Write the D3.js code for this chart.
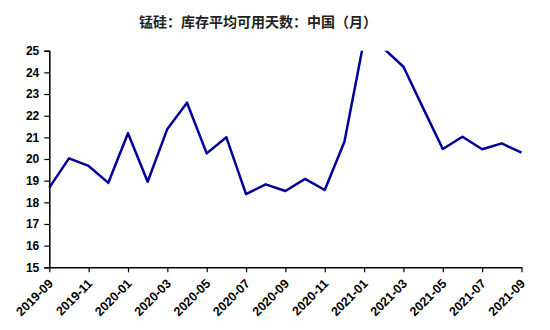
<!DOCTYPE html>
<html>
<head>
<meta charset="utf-8">
<script src="https://cdn.jsdelivr.net/npm/d3@7/dist/d3.min.js"></script>
<style>
  html, body { margin: 0; padding: 0; background: #fff; }
  svg { display: block; }
</style>
</head>
<body>
<svg id="chart" width="550" height="330"></svg>
<script>
const title = "锰硅：库存平均可用天数：中国（月）";
const months = ["2019-09","2019-10","2019-11","2019-12","2020-01","2020-02","2020-03","2020-04",
  "2020-05","2020-06","2020-07","2020-08","2020-09","2020-10","2020-11","2020-12",
  "2021-01","2021-02","2021-03","2021-04","2021-05","2021-06","2021-07","2021-08","2021-09"];
const values = [18.68,20.03,19.68,18.90,21.19,18.95,21.39,22.60,
  20.26,21.00,18.38,18.83,18.52,19.08,18.57,20.80,
  25.50,25.10,24.26,22.35,20.46,21.03,20.45,20.72,20.29];
const xTickLabels = ["2019-09","2019-11","2020-01","2020-03","2020-05","2020-07","2020-09",
  "2020-11","2021-01","2021-03","2021-05","2021-07","2021-09"];
const yTicks = [15,16,17,18,19,20,21,22,23,24,25];

const svg = d3.select("#chart");
const margin = {left: 49.3, right: 28.5, top: 50.7, bottom: 62.7};
const W = 550, H = 330;

const x = d3.scalePoint().domain(months).range([margin.left, W - margin.right]);
const y = d3.scaleLinear().domain([15, 25]).range([H - margin.bottom, margin.top]);

svg.append("text")
  .attr("x", 258).attr("y", 27)
  .attr("text-anchor", "middle")
  .attr("font-family", "'Noto Sans CJK SC', sans-serif")
  .attr("font-size", 14).attr("font-weight", "bold")
  .attr("fill", "#222")
  .text(title);

svg.append("defs").append("clipPath").attr("id", "plotclip")
  .append("rect")
  .attr("x", margin.left - 2).attr("y", margin.top)
  .attr("width", W - margin.left - margin.right + 4)
  .attr("height", H - margin.top - margin.bottom);

const yAxis = svg.append("g")
  .attr("transform", `translate(${margin.left},0)`)
  .call(d3.axisLeft(y).tickValues(yTicks).tickSize(5).tickPadding(5).tickFormat(d3.format("d")));
yAxis.select(".domain").attr("stroke", "#000").attr("stroke-width", 1.5);
yAxis.selectAll(".tick line").attr("stroke", "#000").attr("stroke-width", 1.2);
yAxis.selectAll("text")
  .attr("font-family", "'Liberation Sans', Arial, sans-serif")
  .attr("font-size", 12).attr("font-weight", "bold").attr("fill", "#000");

const xAxis = svg.append("g")
  .attr("transform", `translate(0,${H - margin.bottom})`)
  .call(d3.axisBottom(x).tickValues(xTickLabels).tickSize(5).tickSizeOuter(0));
xAxis.select(".domain").attr("stroke", "#000").attr("stroke-width", 1.5);
xAxis.selectAll(".tick line").attr("stroke", "#000").attr("stroke-width", 1.2);
xAxis.selectAll("text")
  .attr("font-family", "'Liberation Sans', Arial, sans-serif")
  .attr("font-size", 12.5).attr("font-weight", "bold").attr("fill", "#000")
  .attr("text-anchor", "end")
  .attr("y", 0)
  .attr("dy", "0")
  .attr("transform", "translate(4,17) rotate(-45)");

const line = d3.line().x((d, i) => x(months[i])).y(d => y(d));
svg.append("path")
  .datum(values)
  .attr("clip-path", "url(#plotclip)")
  .attr("fill", "none")
  .attr("stroke", "#000099")
  .attr("stroke-width", 2.5)
  .attr("stroke-linejoin", "round")
  .attr("d", line);
</script>
</body>
</html>
